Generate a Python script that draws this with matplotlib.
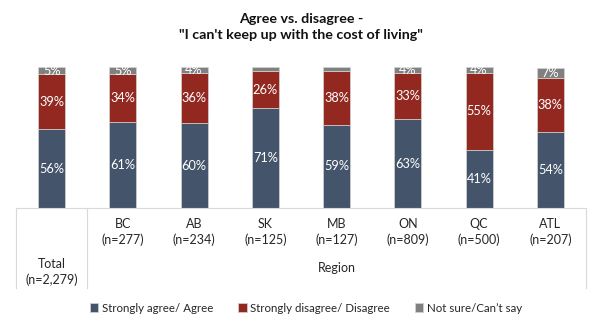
import numpy as np
import matplotlib
matplotlib.use("Agg")
import matplotlib.pyplot as plt
import matplotlib.transforms as mtransforms

plt.rcParams['font.family'] = ['Lato', 'DejaVu Sans']

# data
groups = ["Total", "BC", "AB", "SK", "MB", "ON", "QC", "ATL"]
sizes = ["n=2,279", "n=277", "n=234", "n=125", "n=127", "n=809", "n=500", "n=207"]
agree = [56, 61, 60, 71, 59, 63, 41, 54]
disagree = [39, 34, 36, 26, 38, 33, 55, 38]
not_sure = [5, 5, 4, 3, 3, 4, 4, 7]

series_names = ["Strongly agree/ Agree", "Strongly disagree/ Disagree", "Not sure/Can\u2019t say"]
colors = ["#44546A", "#922820", "#808080"]

fig = plt.figure(figsize=(6.02, 3.29), dpi=100)
ax = fig.add_axes([16 / 602, 1 - 208 / 329, 570 / 602, 141 / 329])

x = np.arange(len(groups))
bottom = np.zeros(len(groups))
handles = []
for vals, name, col in zip([agree, disagree, not_sure], series_names, colors):
    bars = ax.bar(x, vals, width=0.38, bottom=bottom, color=col, label=name,
                  edgecolor="#D4D4D4", linewidth=0.5)
    labels = [f"{v}%" if v >= 4 else "" for v in vals]
    ax.bar_label(bars, labels=labels, label_type="center", color="white",
                 fontsize=9.2)
    bottom += np.array(vals)
    handles.append(bars)

ax.set_xlim(-0.5, len(groups) - 0.5)
ax.set_ylim(0, 100)
ax.set_yticks([])
ax.set_xticks([])
for s in ["top", "left", "right"]:
    ax.spines[s].set_visible(False)
ax.spines["bottom"].set_color("#D9D9D9")
ax.spines["bottom"].set_linewidth(0.8)

# table-like category axis
trans = mtransforms.blended_transform_factory(ax.transData, ax.transAxes)
tbl_bottom = -80 / 141
for xv in [-0.5, 0.5, len(groups) - 0.5]:
    ax.plot([xv, xv], [0, tbl_bottom], transform=trans, color="#D9D9D9",
            lw=0.8, clip_on=False)

for i, (g, n) in enumerate(zip(groups, sizes)):
    yy = -64 / 141 if i == 0 else -24 / 141
    ax.text(i, yy, f"{g}\n({n})", transform=trans, ha="center", va="center",
            fontsize=9.0, color="#262626", linespacing=1.3)
ax.text((1 + len(groups) - 1) / 2, -60 / 141, "Region", transform=trans,
        ha="center", va="center", fontsize=9.0, color="#262626")

fig.text(0.5, 1 - 27 / 329, "Agree vs. disagree -\n\"I can't keep up with the cost of living\"",
         ha="center", va="center", fontsize=10.3, fontweight="bold",
         color="#111111", linespacing=1.4)

fig.legend(handles, series_names, loc="center", bbox_to_anchor=(306 / 602, 1 - 308 / 329),
           ncol=3, frameon=False, fontsize=8.3, handlelength=0.7, handleheight=0.7,
           handletextpad=0.3, columnspacing=2.2, labelcolor="#262626")

fig.savefig("out.png", dpi=100)
